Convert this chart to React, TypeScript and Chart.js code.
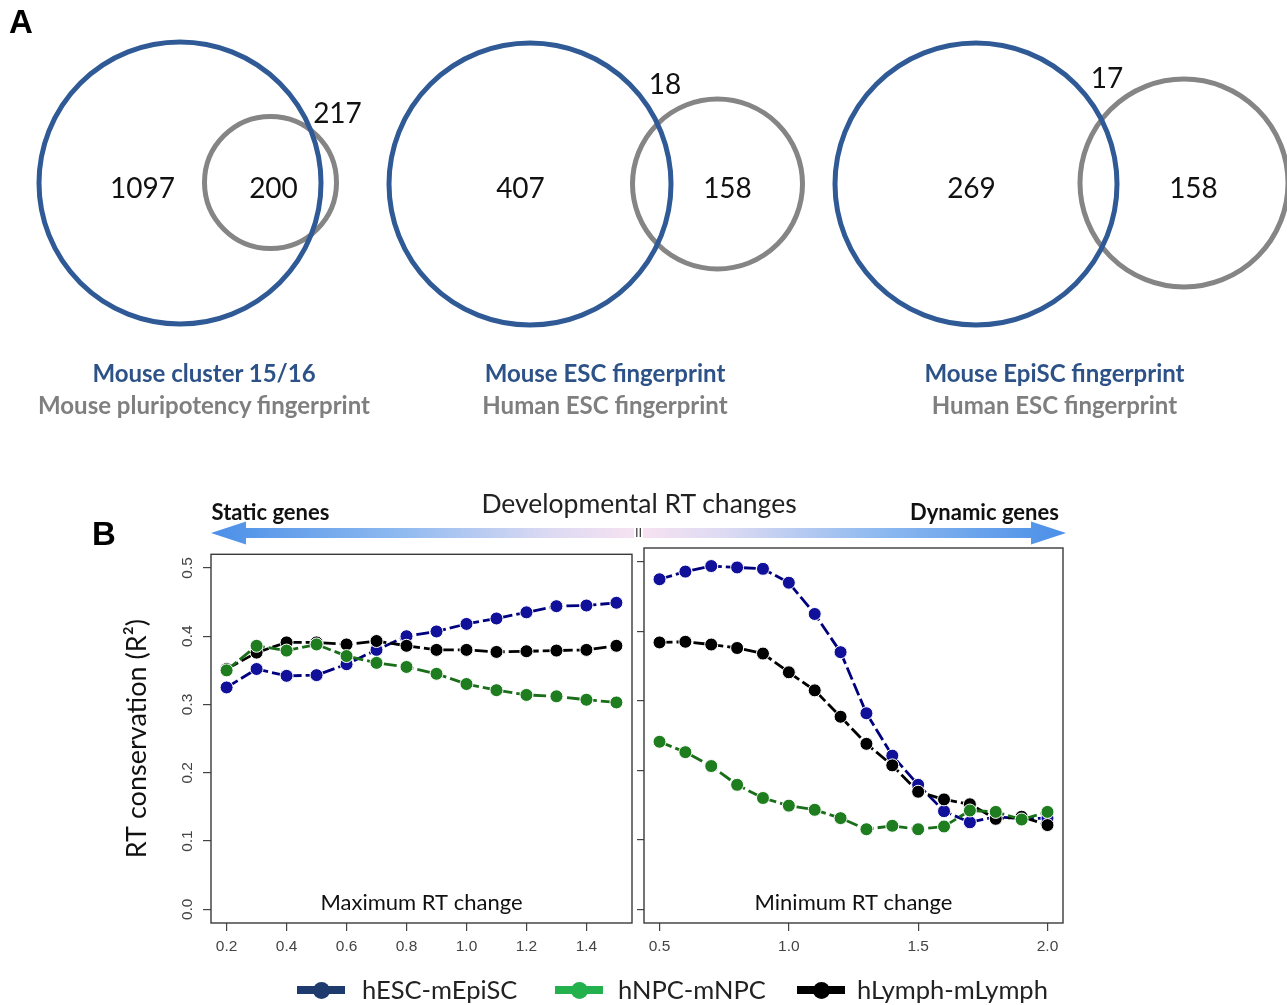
import React, { useEffect, useRef } from "react";
import { Chart, registerables } from "chart.js";
Chart.register(...registerables);

const W = 1287;
const H = 1005;

// ---------------- Panel A data ----------------
const vennTitleA = ["Mouse cluster 15/16", "Mouse ESC fingerprint", "Mouse EpiSC fingerprint"];
const vennTitleB = ["Mouse pluripotency fingerprint", "Human ESC fingerprint", "Human ESC fingerprint"];
const vennCountA = [1097, 407, 269];
const vennCountB = [200, 158, 158];
const vennCountC = [217, 18, 17];

// ---------------- Panel B data ----------------
const maxChangeX = [0.2, 0.3, 0.4, 0.5, 0.6, 0.7, 0.8, 0.9, 1.0, 1.1, 1.2, 1.3, 1.4, 1.5];
const maxEsc = [0.325, 0.352, 0.342, 0.343, 0.359, 0.38, 0.4, 0.407, 0.418, 0.426, 0.435, 0.444, 0.445, 0.449];
const maxNpc = [0.35, 0.386, 0.379, 0.388, 0.371, 0.361, 0.355, 0.345, 0.33, 0.321, 0.314, 0.312, 0.307, 0.303];
const maxLymph = [0.352, 0.376, 0.391, 0.391, 0.388, 0.393, 0.386, 0.38, 0.38, 0.377, 0.378, 0.379, 0.38, 0.386];

const minChangeX = [0.5, 0.6, 0.7, 0.8, 0.9, 1.0, 1.1, 1.2, 1.3, 1.4, 1.5, 1.6, 1.7, 1.8, 1.9, 2.0];
const minEsc = [0.475, 0.486, 0.494, 0.492, 0.49, 0.47, 0.425, 0.37, 0.282, 0.221, 0.179, 0.141, 0.125, 0.133, 0.13, 0.131];
const minNpc = [0.241, 0.226, 0.206, 0.179, 0.16, 0.149, 0.143, 0.131, 0.115, 0.12, 0.115, 0.119, 0.142, 0.14, 0.129, 0.14];
const minLymph = [0.384, 0.385, 0.381, 0.376, 0.368, 0.341, 0.315, 0.277, 0.238, 0.207, 0.169, 0.158, 0.151, 0.13, 0.133, 0.121];

const seriesNames = ["hESC-mEpiSC", "hNPC-mNPC", "hLymph-mLymph"];
const maxTicks = [0.2, 0.4, 0.6, 0.8, 1.0, 1.2, 1.4];
const minTicks = [0.5, 1.0, 1.5, 2.0];
const yTicks = [0.0, 0.1, 0.2, 0.3, 0.4, 0.5];
const panelLabels = ["Maximum RT change", "Minimum RT change"];
const yAxisTitle = "RT conservation (R\u00B2)";
const headerText = "Developmental RT changes";
const leftArrowText = "Static genes";
const rightArrowText = "Dynamic genes";

// ---------------- layout / styles ----------------
const blueCircles = [
  { x: 180, y: 183, r: 141 },
  { x: 530, y: 184, r: 141 },
  { x: 976, y: 184, r: 141 },
];
const grayCircles = [
  { x: 270.5, y: 182.5, r: 66 },
  { x: 717.5, y: 184, r: 85 },
  { x: 1184, y: 183, r: 104 },
];
const posA = [[142.5, 187], [520.5, 187], [971.5, 187]];
const posB = [[273.5, 187], [727.5, 187], [1193.5, 187]];
const posC = [[337.5, 112], [665, 83], [1107, 77]];
const titleCx = [204, 605, 1054.5];

const lineColors = ["#00007f", "#1a6e1a", "#000000"];
const pointColors = ["#10109a", "#1e7d1e", "#000000"];
const legendColors = ["#1f3b6e", "#22b14c", "#000000"];
const drawOrder = [3, 1, 2];
const FONT = "Lato, 'Open Sans', sans-serif";
const TICKFONT = "'Liberation Sans', Arial, sans-serif";

const panelPlugin = {
  id: "panelBox",
  afterDatasetsDraw(chart: any, _args: any, opts: any) {
    const { ctx, chartArea: a } = chart;
    ctx.save();
    ctx.strokeStyle = "#3a3a3a";
    ctx.lineWidth = 1.4;
    ctx.strokeRect(a.left, a.top, a.right - a.left, a.bottom - a.top);
    ctx.fillStyle = "#111";
    ctx.font = `22px ${FONT}`;
    ctx.textAlign = "center";
    ctx.textBaseline = "middle";
    ctx.fillText(opts.text, (a.left + a.right) / 2, a.bottom - 20);
    ctx.restore();
  },
};

function lineConfig(xs: number[], ys: number[][], ticks: number[], xmin: number, xmax: number, left: boolean, label: string, padRight: number): any {
  const datasets = ys.map((s, i) => ({
    label: seriesNames[i],
    data: xs.map((x, j) => ({ x, y: s[j] })),
    borderColor: lineColors[i],
    backgroundColor: pointColors[i],
    pointBackgroundColor: pointColors[i],
    pointBorderColor: "#ffffff",
    pointBorderWidth: 1,
    pointRadius: 6.5,
    borderWidth: 2.8,
    borderDash: [13, 4],
    tension: 0,
    order: drawOrder[i],
  }));
  return {
    type: "line",
    data: { datasets },
    plugins: [panelPlugin],
    options: {
      responsive: false,
      animation: false,
      events: [],
      layout: { padding: { top: 8, right: padRight, left: 0, bottom: 0 }, autoPadding: false },
      plugins: { legend: { display: false }, tooltip: { enabled: false }, panelBox: { text: label } },
      scales: {
        x: {
          type: "linear",
          min: xmin,
          max: xmax,
          afterBuildTicks: (s: any) => {
            s.ticks = ticks.map((v) => ({ value: v }));
          },
          afterFit: (s: any) => {
            s.height = 40;
          },
          border: { display: false },
          grid: { drawOnChartArea: false, drawTicks: true, tickLength: 8, color: "#444", lineWidth: 1.2 },
          ticks: {
            autoSkip: false,
            maxRotation: 0,
            padding: 6,
            color: "#444",
            font: { family: TICKFONT, size: 15.5 },
            callback: (v: any) => Number(v).toFixed(1),
          },
        },
        y: {
          type: "linear",
          min: -0.02,
          max: 0.52,
          afterBuildTicks: (s: any) => {
            s.ticks = yTicks.map((v) => ({ value: v }));
          },
          afterFit: (s: any) => {
            s.width = left ? 90 : 14;
          },
          border: { display: false },
          grid: { drawOnChartArea: false, drawTicks: true, tickLength: left ? 8 : 7, color: "#444", lineWidth: 1.2 },
          ticks: {
            display: left,
            minRotation: 90,
            maxRotation: 90,
            crossAlign: "center",
            padding: 5,
            color: "#444",
            font: { family: TICKFONT, size: 15.5 },
            callback: (v: any) => Number(v).toFixed(1),
          },
          title: {
            display: left,
            text: yAxisTitle,
            color: "#111",
            font: { family: FONT, size: 27 },
            padding: { top: 0, bottom: 0 },
          },
        },
      },
    },
  };
}

function vennConfig(): any {
  return {
    type: "bubble",
    data: {
      datasets: [
        {
          label: "blue",
          data: blueCircles,
          borderColor: "#2f5a96",
          backgroundColor: "rgba(0,0,0,0)",
          borderWidth: 5,
          order: 1,
        },
        {
          label: "gray",
          data: grayCircles,
          borderColor: "#858585",
          backgroundColor: "rgba(0,0,0,0)",
          borderWidth: 5,
          order: 2,
        },
      ],
    },
    options: {
      responsive: false,
      animation: false,
      events: [],
      layout: { padding: 0, autoPadding: false },
      plugins: { legend: { display: false }, tooltip: { enabled: false } },
      scales: {
        x: { type: "linear", min: 0, max: W, display: false },
        y: { type: "linear", min: 0, max: H, reverse: true, display: false },
      },
    },
  };
}

function Txt(props: { x: number; y: number; size: number; color?: string; bold?: boolean; family?: string; children: any; align?: string }) {
  const { x, y, size, color = "#111", bold = false, family = FONT, children, align = "center" } = props;
  const tx = align === "center" ? "-50%" : align === "left" ? "0" : "-100%";
  return (
    <div
      style={{
        position: "absolute",
        left: x,
        top: y,
        transform: `translate(${tx}, -50%)`,
        fontFamily: family,
        fontSize: size,
        fontWeight: bold ? 700 : 400,
        color,
        lineHeight: 1,
        whiteSpace: "nowrap",
      }}
    >
      {children}
    </div>
  );
}

export default function App() {
  const vennRef = useRef<HTMLCanvasElement>(null);
  const leftRef = useRef<HTMLCanvasElement>(null);
  const rightRef = useRef<HTMLCanvasElement>(null);

  useEffect(() => {
    const charts: Chart[] = [];
    if (vennRef.current) charts.push(new Chart(vennRef.current, vennConfig()));
    if (leftRef.current)
      charts.push(
        new Chart(
          leftRef.current,
          lineConfig(maxChangeX, [maxEsc, maxNpc, maxLymph], maxTicks, 0.148, 1.552, true, panelLabels[0], 19)
        )
      );
    if (rightRef.current)
      charts.push(
        new Chart(
          rightRef.current,
          lineConfig(minChangeX, [minEsc, minNpc, minLymph], minTicks, 0.44, 2.06, false, panelLabels[1], 17)
        )
      );
    return () => charts.forEach((c) => c.destroy());
  }, []);

  const legendItemsX = [[321, 362], [579, 618], [821, 857]];

  return (
    <div style={{ position: "absolute", left: 0, top: 0, width: W, height: H, background: "#fff", overflow: "hidden" }}>
      <canvas ref={vennRef} width={W} height={H} style={{ position: "absolute", left: 0, top: 0, width: W, height: H }} />
      <svg width={W} height={H} style={{ position: "absolute", left: 0, top: 0 }}>
        <defs>
          <linearGradient id="gL" x1="211" x2="634" y1="0" y2="0" gradientUnits="userSpaceOnUse">
            <stop offset="0" stopColor="#4a8fe8" />
            <stop offset="0.45" stopColor="#8fbaf0" />
            <stop offset="0.8" stopColor="#dcdaf3" />
            <stop offset="1" stopColor="#f6e2f1" />
          </linearGradient>
          <linearGradient id="gR" x1="643" x2="1066" y1="0" y2="0" gradientUnits="userSpaceOnUse">
            <stop offset="0" stopColor="#f6e2f1" />
            <stop offset="0.2" stopColor="#dcdaf3" />
            <stop offset="0.55" stopColor="#8fbaf0" />
            <stop offset="1" stopColor="#4a8fe8" />
          </linearGradient>
        </defs>
        <polygon points="211,533 246,521.5 246,528 634,528 634,538 246,538 246,544.5" fill="url(#gL)" />
        <polygon points="1066,533 1031,521.5 1031,528 643,528 643,538 1031,538 1031,544.5" fill="url(#gR)" />
      </svg>
      <div style={{ position: "absolute", left: 0, top: 540 }}>
        <canvas ref={leftRef} width={530} height={423} style={{ position: "absolute", left: 121, top: 0, width: 530, height: 423 }} />
        <canvas ref={rightRef} width={450} height={423} style={{ position: "absolute", left: 630, top: 0, width: 450, height: 423 }} />
      </div>

      <Txt x={9} y={21} size={33} bold family={TICKFONT} align="left" color="#000">A</Txt>
      <Txt x={92} y={533} size={33} bold family={TICKFONT} align="left" color="#000">B</Txt>

      {vennCountA.map((v, i) => (
        <Txt key={"a" + i} x={posA[i][0]} y={posA[i][1]} size={28}>{v}</Txt>
      ))}
      {vennCountB.map((v, i) => (
        <Txt key={"b" + i} x={posB[i][0]} y={posB[i][1]} size={28}>{v}</Txt>
      ))}
      {vennCountC.map((v, i) => (
        <Txt key={"c" + i} x={posC[i][0]} y={posC[i][1]} size={28}>{v}</Txt>
      ))}
      {vennTitleA.map((t, i) => (
        <Txt key={"ta" + i} x={titleCx[i]} y={373} size={24} bold color="#2d5288">{t}</Txt>
      ))}
      {vennTitleB.map((t, i) => (
        <Txt key={"tb" + i} x={titleCx[i]} y={405} size={24} bold color="#7f7f7f">{t}</Txt>
      ))}

      <Txt x={639} y={503} size={26.5} color="#222">{headerText}</Txt>
      <Txt x={270.5} y={512} size={22} bold color="#111">{leftArrowText}</Txt>
      <Txt x={984.5} y={512} size={22} bold color="#111">{rightArrowText}</Txt>
      <Txt x={638.5} y={532} size={13} color="#333" family={TICKFONT}>II</Txt>

      {seriesNames.map((n, i) => (
        <React.Fragment key={"lg" + i}>
          <div
            style={{
              position: "absolute",
              left: legendItemsX[i][0] - 24,
              top: 990 - 4,
              width: 48,
              height: 8,
              background: legendColors[i],
            }}
          />
          <div
            style={{
              position: "absolute",
              left: legendItemsX[i][0] - 8.5,
              top: 990 - 8.5,
              width: 17,
              height: 17,
              borderRadius: "50%",
              background: legendColors[i],
            }}
          />
          <Txt x={legendItemsX[i][1]} y={990} size={25.5} align="left" color="#222">{n}</Txt>
        </React.Fragment>
      ))}
    </div>
  );
}
